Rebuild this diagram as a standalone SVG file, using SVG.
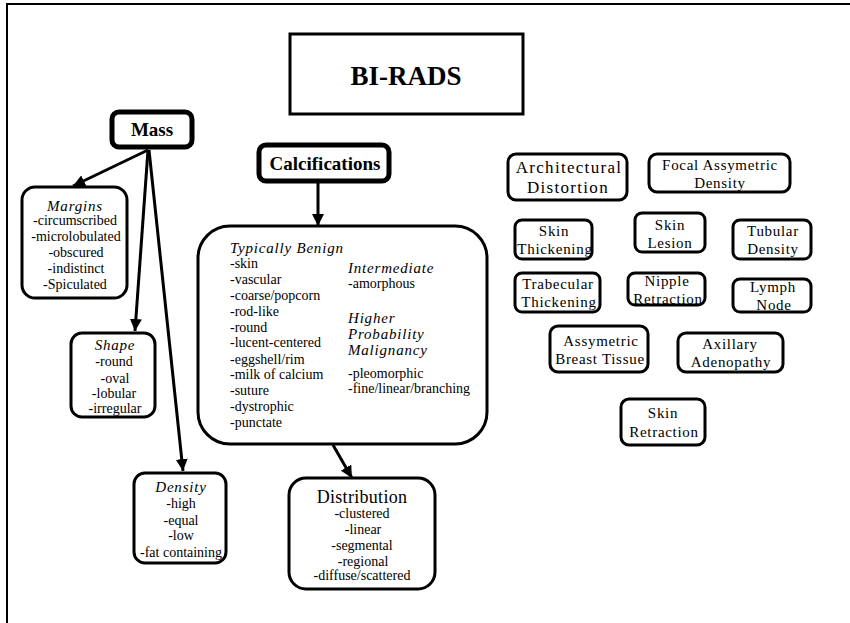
<svg xmlns="http://www.w3.org/2000/svg" width="850" height="623" viewBox="0 0 850 623">
  <defs>
    <marker id="arrow" viewBox="0 0 10 10" refX="10" refY="5" markerWidth="4" markerHeight="4" orient="auto" markerUnits="strokeWidth">
      <path d="M0,0 L10,5 L0,10 z" fill="#000"/>
    </marker>
    <style>
      text { font-family: "Liberation Serif", "DejaVu Serif", "Noto Serif", serif; fill: #000; }
      .box { fill: #fff; stroke: #000; stroke-width: 3; }
      .thick { fill: #fff; stroke: #000; stroke-width: 5; }
      .hd { font-weight: bold; font-size: 19px; text-anchor: middle; }
      .it { font-style: italic; font-size: 15px; letter-spacing: 0.8px; }
      .ls { font-size: 14px; }
      .c { text-anchor: middle; }
      .rb { font-size: 15px; letter-spacing: 0.7px; text-anchor: middle; }
      .big { font-size: 17px; letter-spacing: 1.3px; }
      .conn { stroke: #000; stroke-width: 3; fill: none; marker-end: url(#arrow); }
    </style>
  </defs>

  <rect width="850" height="623" fill="#fff"/>
  <!-- page frame -->
  <rect x="7" y="4" width="900" height="700" fill="none" stroke="#000" stroke-width="2"/>

  <!-- connectors -->
  <g id="connectors">
    <line class="conn" x1="148" y1="150" x2="73" y2="186"/>
    <line class="conn" x1="148" y1="150" x2="135" y2="331"/>
    <line class="conn" x1="149" y1="150" x2="183" y2="471"/>
    <line class="conn" x1="318" y1="182" x2="318" y2="226"/>
    <line class="conn" x1="333" y1="445" x2="352" y2="478"/>
  </g>

  <g id="birads">
    <rect x="290" y="34" width="233" height="80" fill="#fff" stroke="#000" stroke-width="3"/>
    <text x="406" y="85" font-size="27" font-weight="bold" text-anchor="middle">BI-RADS</text>
  </g>

  <g id="mass">
    <rect class="thick" x="112" y="112" width="80" height="35" rx="7"/>
    <text class="hd" x="152" y="136">Mass</text>
  </g>

  <g id="calcifications">
    <rect class="thick" x="259" y="145" width="130" height="36" rx="7"/>
    <text class="hd" x="325" y="170">Calcifications</text>
  </g>

  <g id="margins">
    <rect class="box" x="22" y="187" width="105" height="111" rx="13"/>
    <text class="it c" x="75" y="211">Margins</text>
    <text class="ls c" x="75" y="225">-circumscribed</text>
    <text class="ls c" x="76" y="241">-microlobulated</text>
    <text class="ls c" x="76" y="257">-obscured</text>
    <text class="ls c" x="76" y="273">-indistinct</text>
    <text class="ls c" x="75" y="289">-Spiculated</text>
  </g>

  <g id="shape">
    <rect class="box" x="71" y="333" width="84" height="84" rx="11"/>
    <text class="it c" x="115" y="350">Shape</text>
    <text class="ls c" x="114" y="366">-round</text>
    <text class="ls c" x="115" y="383">-oval</text>
    <text class="ls c" x="114" y="398">-lobular</text>
    <text class="ls c" x="115" y="413">-irregular</text>
  </g>

  <g id="density">
    <rect class="box" x="134" y="473" width="92" height="90" rx="11"/>
    <text class="it c" x="181" y="492">Density</text>
    <text class="ls c" x="181" y="508">-high</text>
    <text class="ls c" x="181" y="525">-equal</text>
    <text class="ls c" x="181" y="540">-low</text>
    <text class="ls c" x="181" y="557">-fat containing</text>
  </g>

  <g id="calc-types">
    <rect class="box" x="198" y="226" width="289" height="218" rx="32"/>
    <text class="it" x="230" y="253">Typically Benign</text>
    <g class="ls">
      <text x="230" y="268">-skin</text>
      <text x="230" y="284">-vascular</text>
      <text x="230" y="300">-coarse/popcorn</text>
      <text x="230" y="316">-rod-like</text>
      <text x="230" y="332">-round</text>
      <text x="230" y="347">-lucent-centered</text>
      <text x="230" y="364">-eggshell/rim</text>
      <text x="230" y="379">-milk of calcium</text>
      <text x="230" y="395">-suture</text>
      <text x="230" y="411">-dystrophic</text>
      <text x="230" y="427">-punctate</text>
    </g>
    <text class="it" x="348" y="273">Intermediate</text>
    <text class="ls" x="348" y="288">-amorphous</text>
    <text class="it" x="348" y="323">Higher</text>
    <text class="it" x="348" y="339">Probability</text>
    <text class="it" x="348" y="355">Malignancy</text>
    <text class="ls" x="348" y="378">-pleomorphic</text>
    <text class="ls" x="348" y="393">-fine/linear/branching</text>
  </g>

  <g id="distribution">
    <rect class="box" x="289" y="478" width="146" height="111" rx="17"/>
    <text x="362" y="503" font-size="18" letter-spacing="0.3" text-anchor="middle">Distribution</text>
    <text class="ls c" x="362" y="518">-clustered</text>
    <text class="ls c" x="363" y="534">-linear</text>
    <text class="ls c" x="362" y="550">-segmental</text>
    <text class="ls c" x="363" y="566">-regional</text>
    <text class="ls c" x="362" y="580">-diffuse/scattered</text>
  </g>

  <g id="architectural-distortion">
    <rect class="box" x="508" y="154" width="119" height="46" rx="8"/>
    <text class="rb big" x="569" y="173">Architectural</text>
    <text class="rb big" x="568" y="193">Distortion</text>
  </g>

  <g id="focal-assymetric-density">
    <rect class="box" x="649" y="154" width="141" height="38" rx="8"/>
    <text class="rb" x="720" y="170">Focal Assymetric</text>
    <text class="rb" x="720" y="188">Density</text>
  </g>

  <g id="skin-thickening">
    <rect class="box" x="515" y="220" width="77" height="39" rx="7"/>
    <text class="rb" x="554" y="236">Skin</text>
    <text class="rb" x="555" y="254">Thickening</text>
  </g>

  <g id="skin-lesion">
    <rect class="box" x="635" y="213" width="70" height="39" rx="7"/>
    <text class="rb" x="670" y="230">Skin</text>
    <text class="rb" x="670" y="248">Lesion</text>
  </g>

  <g id="tubular-density">
    <rect class="box" x="733" y="220" width="78" height="39" rx="7"/>
    <text class="rb" x="773" y="236">Tubular</text>
    <text class="rb" x="773" y="254">Density</text>
  </g>

  <g id="trabecular-thickening">
    <rect class="box" x="515" y="273" width="85" height="39" rx="7"/>
    <text class="rb" x="558" y="289">Trabecular</text>
    <text class="rb" x="559" y="307">Thickening</text>
  </g>

  <g id="nipple-retraction">
    <rect class="box" x="628" y="273" width="77" height="32" rx="7"/>
    <text class="rb" x="667" y="286">Nipple</text>
    <text class="rb" x="668" y="304">Retraction</text>
  </g>

  <g id="lymph-node">
    <rect class="box" x="733" y="279" width="78" height="33" rx="7"/>
    <text class="rb" x="773" y="292">Lymph</text>
    <text class="rb" x="774" y="310">Node</text>
  </g>

  <g id="assymetric-breast-tissue">
    <rect class="box" x="550" y="326" width="98" height="46" rx="8"/>
    <text class="rb" x="601" y="346">Assymetric</text>
    <text class="rb" x="600" y="364">Breast Tissue</text>
  </g>

  <g id="axillary-adenopathy">
    <rect class="box" x="678" y="333" width="105" height="39" rx="8"/>
    <text class="rb" x="730" y="349">Axillary</text>
    <text class="rb" x="731" y="367">Adenopathy</text>
  </g>

  <g id="skin-retraction">
    <rect class="box" x="621" y="399" width="84" height="46" rx="8"/>
    <text class="rb" x="663" y="418">Skin</text>
    <text class="rb" x="664" y="437">Retraction</text>
  </g>
</svg>
